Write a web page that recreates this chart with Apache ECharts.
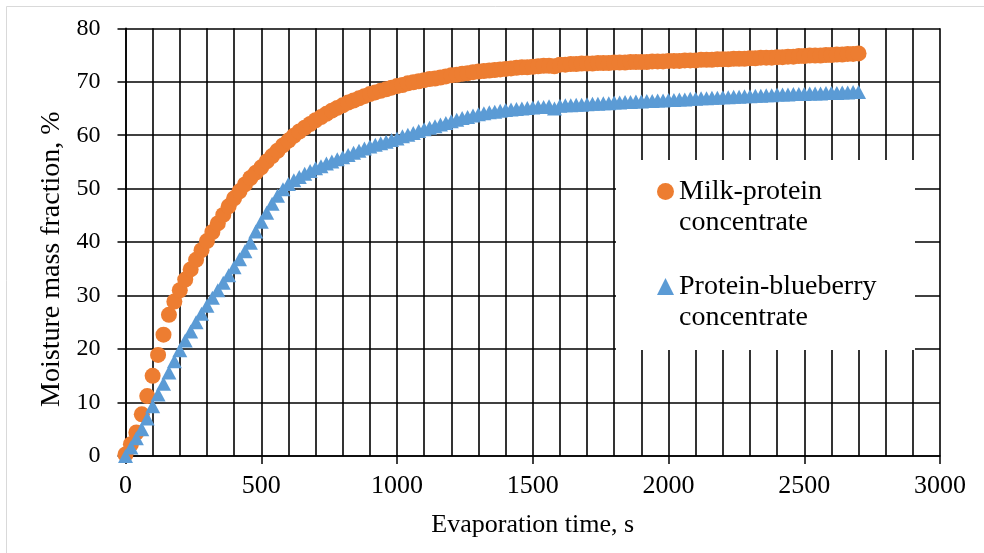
<!DOCTYPE html>
<html>
<head>
<meta charset="utf-8">
<script src="https://cdn.jsdelivr.net/npm/echarts@6/dist/echarts.min.js"></script>
<style>
html,body{margin:0;padding:0;background:#fff;}
#chart{width:984px;height:553px;}
</style>
</head>
<body>
<div id="chart"></div>
<script>
// Evaporation time, s
const timeS = [
0,20,40,60,80,100,120,140,160,180,
200,220,240,260,280,300,320,340,360,380,
400,420,440,460,480,500,520,540,560,580,
600,620,640,660,680,700,720,740,760,780,
800,820,840,860,880,900,920,940,960,980,
1000,1020,1040,1060,1080,1100,1120,1140,1160,1180,
1200,1220,1240,1260,1280,1300,1320,1340,1360,1380,
1400,1420,1440,1460,1480,1500,1520,1540,1560,1580,
1600,1620,1640,1660,1680,1700,1720,1740,1760,1780,
1800,1820,1840,1860,1880,1900,1920,1940,1960,1980,
2000,2020,2040,2060,2080,2100,2120,2140,2160,2180,
2200,2220,2240,2260,2280,2300,2320,2340,2360,2380,
2400,2420,2440,2460,2480,2500,2520,2540,2560,2580,
2600,2620,2640,2660,2680,2700];

// Milk-protein concentrate, moisture mass fraction %
const milkProtein = [
0.3,2.2,4.4,7.8,11.2,15.0,18.9,22.7,26.4,28.9,
31.0,33.0,34.9,36.7,38.5,40.2,41.9,43.5,45.1,46.7,
48.2,49.5,50.8,52.0,53.0,54.0,55.1,56.1,57.1,58.1,
59.0,59.9,60.7,61.4,62.1,62.8,63.4,64.0,64.6,65.1,
65.6,66.1,66.5,66.9,67.3,67.7,68.0,68.3,68.6,68.9,
69.2,69.4,69.7,69.9,70.1,70.3,70.5,70.6,70.8,71.0,
71.2,71.3,71.5,71.6,71.8,71.9,72.0,72.1,72.2,72.3,
72.4,72.5,72.6,72.7,72.7,72.8,72.9,73.0,73.0,72.9,
73.2,73.2,73.3,73.3,73.4,73.4,73.4,73.5,73.5,73.5,
73.6,73.6,73.6,73.7,73.7,73.7,73.7,73.8,73.8,73.8,
73.9,73.9,73.9,74.0,74.0,74.0,74.1,74.1,74.1,74.2,
74.2,74.2,74.3,74.3,74.3,74.4,74.4,74.5,74.5,74.5,
74.6,74.6,74.7,74.7,74.8,74.8,74.9,74.9,74.9,75.0,
75.0,75.1,75.1,75.2,75.2,75.3];

// Protein-blueberry concentrate, moisture mass fraction %
const proteinBlueberry = [
0.0,1.6,3.3,5.0,7.0,9.3,11.5,13.5,15.6,17.7,
19.8,21.6,23.3,25.0,26.6,28.1,29.6,31.0,32.4,33.8,
35.3,36.8,38.3,39.9,42.0,43.8,45.5,47.2,48.7,49.9,
50.9,51.6,52.2,52.8,53.3,53.8,54.2,54.7,55.1,55.5,
55.9,56.3,56.7,57.1,57.5,57.9,58.2,58.5,58.8,59.1,
59.4,59.8,60.1,60.4,60.8,61.1,61.4,61.7,62.0,62.3,
62.6,62.9,63.2,63.4,63.7,63.9,64.1,64.3,64.4,64.6,
64.7,64.8,64.9,65.0,65.1,65.2,65.3,65.3,65.4,65.0,
65.5,65.6,65.6,65.7,65.7,65.8,65.9,65.9,66.0,66.0,
66.1,66.1,66.2,66.2,66.3,66.3,66.4,66.4,66.5,66.5,
66.6,66.6,66.7,66.7,66.8,66.8,66.9,66.9,67.0,67.0,
67.1,67.1,67.2,67.2,67.3,67.3,67.4,67.4,67.5,67.5,
67.6,67.6,67.6,67.7,67.7,67.7,67.8,67.8,67.8,67.9,
67.9,67.9,68.0,68.0,68.1,68.1];

const seriesNames = ['Milk-protein\nconcentrate', 'Protein-blueberry\nconcentrate'];
const xAxisTitle = 'Evaporation time, s';
const yAxisTitle = 'Moisture mass fraction, %';

function pairs(xs, ys) { return xs.map((x, i) => [x, ys[i]]); }

const FONT = 'Liberation Serif, Times New Roman, serif';
const chart = echarts.init(document.getElementById('chart'), null, {renderer: 'canvas'});
chart.setOption({
  animation: false,
  backgroundColor: '#fff',
  grid: {left: 125.5, right: 44, top: 28.3, bottom: 97, containLabel: false},
  xAxis: {
    type: 'value', min: 0, max: 3000, interval: 500,
    name: xAxisTitle, nameLocation: 'middle', nameGap: 56,
    nameTextStyle: {fontFamily: FONT, fontSize: 26, color: '#000'},
    axisLine: {show: true, onZero: false, lineStyle: {color: '#000', width: 1.5}},
    axisTick: {show: true, length: 8, lineStyle: {color: '#000', width: 1.5}},
    minorTick: {show: false, splitNumber: 5},
    axisLabel: {fontFamily: FONT, fontSize: 26, color: '#000', margin: 17,
                formatter: v => String(v)},
    splitLine: {show: true, lineStyle: {color: '#000', width: 1.6}},
    minorSplitLine: {show: true, lineStyle: {color: '#000', width: 1.6}}
  },
  yAxis: {
    type: 'value', min: 0, max: 80, interval: 10,
    name: yAxisTitle, nameLocation: 'middle', nameGap: 58, nameRotate: 90,
    nameTextStyle: {fontFamily: FONT, fontSize: 28, color: '#000', padding: [0, 34, 0, 0]},
    axisLine: {show: true, lineStyle: {color: '#000', width: 1.5}},
    axisTick: {show: true, length: 8, lineStyle: {color: '#000', width: 1.5}},
    axisLabel: {fontFamily: FONT, fontSize: 24, color: '#000', margin: 25,
                formatter: v => String(v)},
    splitLine: {show: true, lineStyle: {color: '#000', width: 1.6}}
  },
  legend: {
    orient: 'vertical', left: 657, top: 145, padding: 0, itemGap: 2,
    itemWidth: 17, itemHeight: 17,
    data: [{name: seriesNames[0], icon: 'circle'}, {name: seriesNames[1], icon: 'triangle'}],
    formatter: name => '\n' + name,
    textStyle: {fontFamily: FONT, fontSize: 28, color: '#000', lineHeight: 31},
    selectedMode: false
  },
  graphic: [
    {type: 'rect', z: 3, silent: true, shape: {x: 616, y: 160, width: 299, height: 190},
     style: {fill: '#fff'}},
    {type: 'rect', z: 0, silent: true, shape: {x: 6.5, y: 6.5, width: 990, height: 570},
     style: {fill: 'none', stroke: '#d9d9d9', lineWidth: 1}}
  ],
  series: [
    {name: seriesNames[0], type: 'scatter', symbol: 'circle', symbolSize: 16,
     itemStyle: {color: '#ED7D31', opacity: 1}, data: pairs(timeS, milkProtein), z: 2},
    {name: seriesNames[1], type: 'scatter', symbol: 'triangle', symbolSize: [15, 14],
     itemStyle: {color: '#5B9BD5', opacity: 1}, data: pairs(timeS, proteinBlueberry), z: 2}
  ]
});
</script>
</body>
</html>
